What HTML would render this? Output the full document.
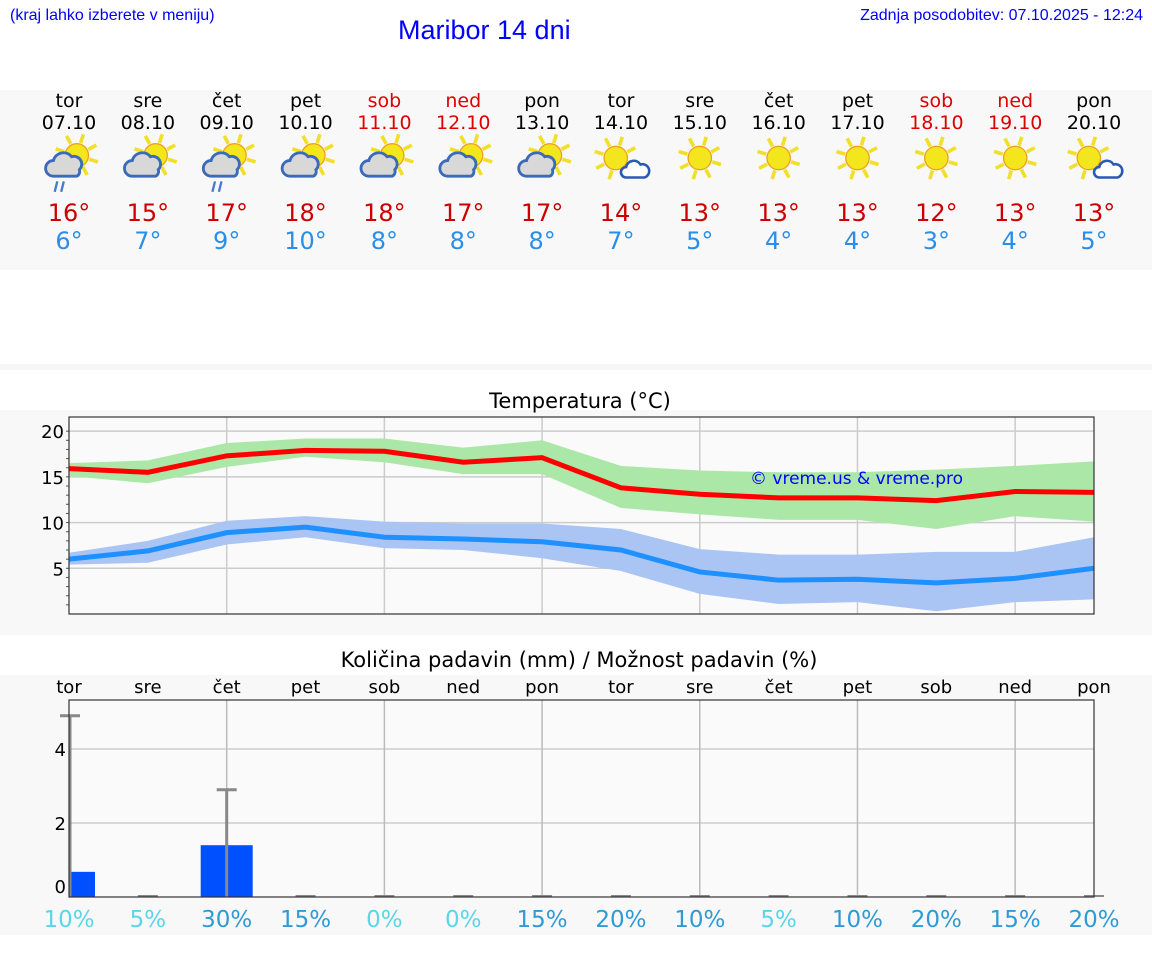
<!DOCTYPE html>
<html><head><meta charset="utf-8"><style>
body{margin:0;width:1152px;height:975px;background:#fff;font-family:"DejaVu Sans","Liberation Sans",sans-serif;position:relative;overflow:hidden}
.a{position:absolute}
</style></head><body>
<div class="a" style="left:10px;top:7px;font-size:16px;color:#00f;font-family:'Liberation Sans',sans-serif">(kraj lahko izberete v meniju)</div>
<div class="a" style="left:398px;top:15px;font-size:27px;color:#00f;font-family:'Liberation Sans',sans-serif">Maribor 14 dni</div>
<div class="a" style="right:9px;top:7px;font-size:16px;color:#00f;font-family:'Liberation Sans',sans-serif">Zadnja posodobitev: 07.10.2025 - 12:24</div>
<div class="a" style="left:0;top:90px;width:1152px;height:180px;background:#f8f8f8"></div>
<div class="a" style="left:0;top:364px;width:1152px;height:6px;background:#f6f6f6"></div>
<div class="a" style="left:0;top:410px;width:1152px;height:225px;background:#f8f8f8"></div>
<div class="a" style="left:0;top:675px;width:1152px;height:260px;background:#f8f8f8"></div>
<svg class="a" style="left:0;top:0" width="1152" height="975" id="svg"></svg>
<script>
const days=["tor","sre","čet","pet","sob","ned","pon","tor","sre","čet","pet","sob","ned","pon"];
const dates=["07.10","08.10","09.10","10.10","11.10","12.10","13.10","14.10","15.10","16.10","17.10","18.10","19.10","20.10"];
const weekend=[0,0,0,0,1,1,0,0,0,0,0,1,1,0];
const icons=["cr","c","cr","c","c","c","c","s2","s","s","s","s","s","s2"];
const tmax=[16,15,17,18,18,17,17,14,13,13,13,12,13,13];
const tmin=[6,7,9,10,8,8,8,7,5,4,4,3,4,5];
const maxLine=[15.9,15.5,17.3,17.9,17.8,16.6,17.1,13.8,13.1,12.7,12.7,12.4,13.4,13.3];
const maxHi=[16.5,16.8,18.7,19.2,19.2,18.2,19,16.2,15.7,15.5,15.5,15.8,16.2,16.7];
const maxLo=[15.1,14.3,16.1,17.2,16.6,15.3,15.3,11.6,10.9,10.3,10.3,9.3,10.7,10.1];
const minLine=[6,6.9,8.9,9.5,8.4,8.2,7.9,7,4.6,3.7,3.8,3.4,3.9,5];
const minHi=[6.7,8,10.2,10.7,10.1,9.9,9.9,9.3,7.1,6.5,6.5,6.8,6.8,8.4];
const minLo=[5.4,5.6,7.6,8.4,7.2,7,6.1,4.7,2.2,1.1,1.3,0.3,1.3,1.6];
const tempTicks=[5,10,15,20];
const rain=[0.68,0,1.4,0,0,0,0,0,0,0,0,0,0,0];
const rainMax=[4.9,0,2.9,0,0,0,0,0,0,0,0,0,0,0];
const rainTicks=[0,2,4];
const prob=[10,5,30,15,0,0,15,20,10,5,10,20,15,20];
const probLight=[1,1,0,0,1,1,0,0,0,1,0,0,0,0];

const S=document.getElementById('svg'),NS="http://www.w3.org/2000/svg";
function el(t,a,p){const e=document.createElementNS(NS,t);for(const k in a)e.setAttribute(k,a[k]);(p||S).appendChild(e);return e;}
const X=i=>69+i*(1025/13);
const ty=v=>614-v*(197/21.55);
const ry=v=>897-v*37;

days.forEach((d,i)=>{
 const x=i*78.85+69;
 let t=el('text',{x:x,y:107,'text-anchor':'middle','font-size':19,fill:weekend[i]?'#d00':'#000'});t.textContent=d;
 
 t=el('text',{x:x,y:129,'text-anchor':'middle','font-size':19,fill:weekend[i]?'#d00':'#000'});t.textContent=dates[i];
 
 const g=el('g',{transform:`translate(${x},158) scale(1.3)`});
 
 const ic=icons[i];
 const sx=ic[0]=='s'?ic=='s'?0:-4:6, sy=ic[0]=='s'?0:-2;
 for(let k=0;k<8;k++){const a=k*Math.PI/4+0.3;el('line',{x1:sx+Math.cos(a)*10,y1:sy+Math.sin(a)*10,x2:sx+Math.cos(a)*17,y2:sy+Math.sin(a)*17,stroke:'#f1e02a','stroke-width':2.8},g);}
 el('circle',{cx:sx,cy:sy,r:9,fill:'#f4e61c',stroke:'#f0a020','stroke-width':1},g);
 if(ic=='c'||ic=='cr'){
  el('path',{d:'M-12,14 a6,6 0 0 1 0,-12 a8,8 0 0 1 14,-3 a6,6 0 0 1 6,10 a4,4 0 0 1 -2,5 z',fill:'#d8d8d8',stroke:'#3a6ab8','stroke-width':2.2},g);
 }
 if(ic=='s2'){el('path',{d:'M4,15 a4,4 0 0 1 0,-8 a6,6 0 0 1 11,-2 a4.5,4.5 0 0 1 3,10 z',fill:'#fff',stroke:'#2a5ab8','stroke-width':2},g);}
 if(ic=='cr'){el('line',{x1:-9,y1:18,x2:-11,y2:26,stroke:'#4a7ad0','stroke-width':1.8},g);el('line',{x1:-4,y1:18,x2:-6,y2:26,stroke:'#4a7ad0','stroke-width':1.8},g);}
 t=el('text',{x:x,y:221,'text-anchor':'middle','font-size':24,fill:'#c00'});t.textContent=tmax[i]+'°';
 
 t=el('text',{x:x,y:249,'text-anchor':'middle','font-size':24,fill:'#2a8ee8'});t.textContent=tmin[i]+'°';
 
});

let t=el('text',{x:580,y:408,'text-anchor':'middle','font-size':21,fill:'#000'});t.textContent='Temperatura (°C)';

el('rect',{x:69,y:417,width:1025,height:197,fill:'#fafafa'});
tempTicks.forEach(v=>{el('line',{x1:69,x2:1094,y1:ty(v),y2:ty(v),stroke:'#ccc','stroke-width':1.5});
 const l=el('text',{x:64,y:ty(v)+7,'text-anchor':'end','font-size':18});l.textContent=v;
 });
for(let v=1;v<21;v++)el('line',{x1:66,x2:69,y1:ty(v),y2:ty(v),stroke:'#555'});
for(let i=2;i<13;i+=2)el('line',{x1:X(i),x2:X(i),y1:417,y2:614,stroke:'#ccc','stroke-width':1.5});
function band(hi,lo,c,n){const p=hi.map((v,i)=>X(i)+','+ty(v)).concat(lo.map((v,i)=>X(i)+','+ty(v)).reverse());
 const b=el('polygon',{points:p.join(' '),fill:c});}
function line(d,c,n,yf,w){const l=el('polyline',{points:d.map((v,i)=>X(i)+','+yf(v)).join(' '),fill:'none',stroke:c,'stroke-width':w});
 }
band(maxHi,maxLo,'#abe8a8','max-temp-band');
band(minHi,minLo,'#aac4f4','min-temp-band');
line(maxLine,'#f00','max-temp-line',ty,5);
line(minLine,'#1e90ff','min-temp-line',ty,5);
t=el('text',{x:750,y:484,'font-size':17,fill:'#00f'});t.textContent='© vreme.us & vreme.pro';

el('rect',{x:69,y:417,width:1025,height:197,fill:'none',stroke:'#333','stroke-width':1.2});

t=el('text',{x:579,y:667,'text-anchor':'middle','font-size':21});t.textContent='Količina padavin (mm) / Možnost padavin (%)';

el('rect',{x:69,y:700,width:1025,height:197,fill:'#fafafa'});
rainTicks.forEach(v=>{if(v>0)el('line',{x1:69,x2:1094,y1:ry(v),y2:ry(v),stroke:'#ccc','stroke-width':1.5});
 const l=el('text',{x:66,y:ry(v)+(v==0?-4:7),'text-anchor':'end','font-size':18});l.textContent=v;
 });
for(let i=2;i<13;i+=2)el('line',{x1:X(i),x2:X(i),y1:700,y2:897,stroke:'#bbb','stroke-width':1.5});
days.forEach((d,i)=>{
 const l=el('text',{x:X(i),y:693,'text-anchor':'middle','font-size':18});l.textContent=d;
 
 const x0=Math.max(69,X(i)-26),x1=Math.min(1094,X(i)+26);
 const b=el('rect',{x:x0,y:ry(rain[i]),width:x1-x0,height:897-ry(rain[i]),fill:'#0050ff'});
 
 if(rainMax[i]>0){const ex=Math.max(70,X(i));el('line',{x1:ex,x2:ex,y1:ry(rainMax[i]),y2:897,stroke:'#888','stroke-width':3});
  el('line',{x1:ex-10,x2:ex+10,y1:ry(rainMax[i]),y2:ry(rainMax[i]),stroke:'#888','stroke-width':3});}
 else el('line',{x1:X(i)-10,x2:X(i)+10,y1:896,y2:896,stroke:'#888','stroke-width':2});
 const p=el('text',{x:X(i),y:927,'text-anchor':'middle','font-size':23,fill:probLight[i]?'#5ad6e8':'#2f9ad6'});p.textContent=prob[i]+'%';
 
});
el('rect',{x:69,y:700,width:1025,height:197,fill:'none',stroke:'#333','stroke-width':1.2});
</script>
</body></html>
